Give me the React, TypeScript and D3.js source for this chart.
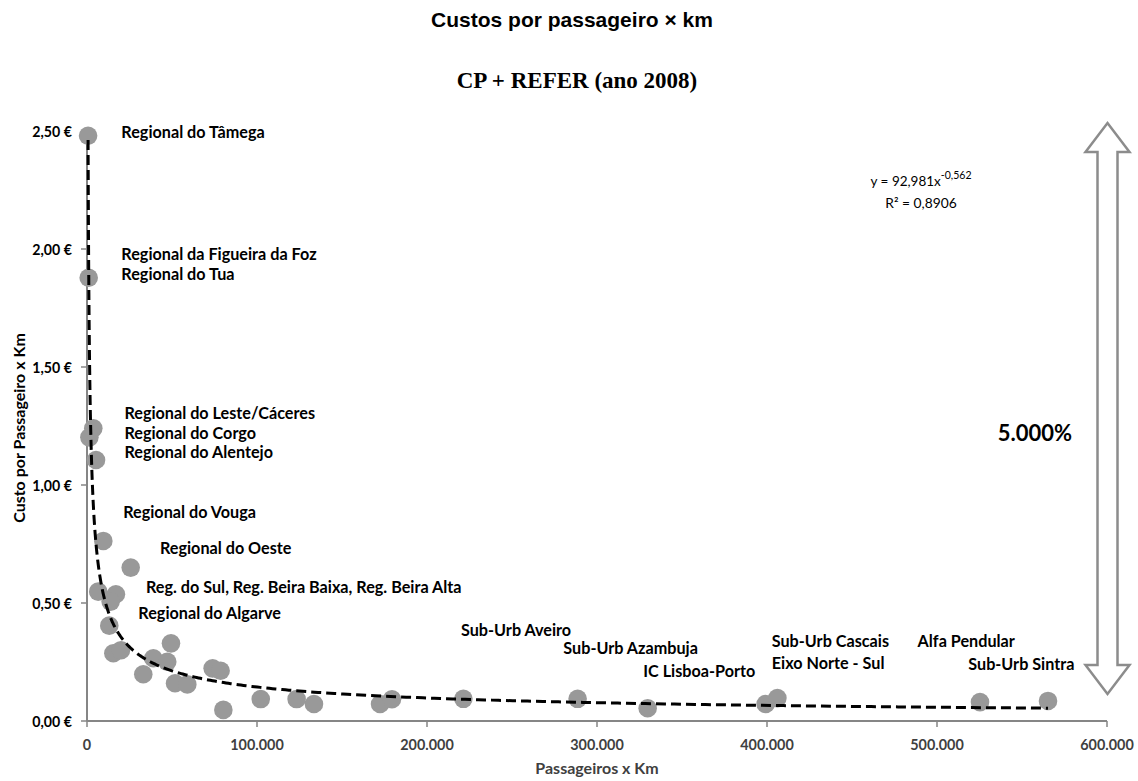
import React, { useEffect } from "react";
import * as d3 from "d3";

const W = 1138;
const H = 781;

// Passageiros x Km (x) and Custo por Passageiro x Km (y, €)
const passKm = [
  640, 1000, 3700, 1400, 5300, 9600, 25700, 6600, 17000, 13900, 13100,
  15500, 20000, 33100, 39000, 47200, 49400, 51800, 59000, 73900, 78600, 80200,
  102200, 123300, 133500, 172400, 179400, 221400, 288600, 329800,
  399200, 406100, 525300, 565300,
];
const custo = [
  2.48, 1.878, 1.24, 1.202, 1.106, 0.763, 0.65, 0.548, 0.537, 0.506, 0.404,
  0.287, 0.30, 0.198, 0.266, 0.251, 0.329, 0.16, 0.155, 0.223, 0.213, 0.047,
  0.093, 0.093, 0.072, 0.072, 0.092, 0.094, 0.094, 0.054,
  0.072, 0.097, 0.08, 0.085,
];

// Annotation labels (anchor in data units)
const labelText = [
  "Regional do Tâmega",
  "Regional da Figueira da Foz",
  "Regional do Tua",
  "Regional do Leste/Cáceres",
  "Regional do Corgo",
  "Regional do Alentejo",
  "Regional do Vouga",
  "Regional do Oeste",
  "Reg. do Sul, Reg. Beira Baixa, Reg. Beira Alta",
  "Regional do Algarve",
  "Sub-Urb Aveiro",
  "Sub-Urb Azambuja",
  "IC Lisboa-Porto",
  "Sub-Urb Cascais",
  "Eixo Norte - Sul",
  "Alfa Pendular",
  "Sub-Urb Sintra",
];
const labelX = [
  20200, 20200, 20200, 22000, 22000, 22000, 21300, 42900, 34700, 30200,
  220000, 280200, 327200, 402800, 402800, 488600, 518400,
];
const labelY = [
  2.497, 1.981, 1.896, 1.307, 1.223, 1.141, 0.887, 0.734, 0.572, 0.461,
  0.386, 0.311, 0.213, 0.343, 0.249, 0.343, 0.244,
];

const xTicks = [0, 100000, 200000, 300000, 400000, 500000, 600000];
const yTicks = [0, 0.5, 1.0, 1.5, 2.0, 2.5];

// Power trendline: y = 92,981 x^-0,562
const trendA = 92.981;
const trendB = -0.562;

const LABEL_FONT = "Lato, 'Open Sans', sans-serif";

export default function App() {
  useEffect(() => {
    document.body.style.margin = "0";
  }, []);

  const x = d3.scaleLinear().domain([0, 600000]).range([87, 1107]);
  const y = d3.scaleLinear().domain([0, 2.5]).range([721, 131]);

  const fmtX = (v: number) =>
    v === 0 ? "0" : d3.format(",")(v).replace(/,/g, ".");
  const fmtY = (v: number) => d3.format(".2f")(v).replace(".", ",") + " €";

  const xmin = d3.min(passKm) as number;
  const xmax = d3.max(passKm) as number;
  const N = 400;
  const trendPts = d3.range(0, N + 1).map((i) => {
    const xv = Math.exp(
      Math.log(xmin) + (i / N) * (Math.log(xmax) - Math.log(xmin))
    );
    return [xv, trendA * Math.pow(xv, trendB)] as [number, number];
  });
  const line = d3
    .line<[number, number]>()
    .x((d) => x(d[0]))
    .y((d) => y(d[1]));

  const axisColor = "#868686";

  // arrow geometry
  const ax = 1107.5;
  const aTop = 123;
  const aBot = 694;
  const headH = 29;
  const headHalf = 22;
  const shaftHalf = 10;
  const arrowPath =
    [
      [ax, aTop],
      [ax + headHalf, aTop + headH],
      [ax + shaftHalf, aTop + headH],
      [ax + shaftHalf, aBot - headH],
      [ax + headHalf, aBot - headH],
      [ax, aBot],
      [ax - headHalf, aBot - headH],
      [ax - shaftHalf, aBot - headH],
      [ax - shaftHalf, aTop + headH],
      [ax - headHalf, aTop + headH],
    ]
      .map((p, i) => (i === 0 ? "M" : "L") + p[0] + "," + p[1])
      .join(" ") + " Z";

  return (
    <svg width={W} height={H} style={{ display: "block", background: "#fff" }}>
      <rect x={0} y={0} width={W} height={H} fill="#fff" />
      {/* titles */}
      <text
        x={572}
        y={19}
        textAnchor="middle"
        dominantBaseline="central"
        fontFamily="'Liberation Sans', Arial, sans-serif"
        fontWeight="bold"
        fontSize={21}
      >
        Custos por passageiro × km
      </text>
      <text
        x={577}
        y={80}
        textAnchor="middle"
        dominantBaseline="central"
        fontFamily="'Liberation Serif', 'Times New Roman', serif"
        fontWeight="bold"
        fontSize={23}
      >
        CP + REFER (ano 2008)
      </text>

      {/* axes */}
      <line x1={x(0)} x2={x(600000)} y1={y(0)} y2={y(0)} stroke={axisColor} strokeWidth={2} />
      <line x1={x(0)} x2={x(0)} y1={y(0)} y2={y(2.5)} stroke={axisColor} strokeWidth={2} />
      {xTicks.map((t) => (
        <g key={"xt" + t}>
          <line x1={x(t)} x2={x(t)} y1={y(0)} y2={y(0) + 6} stroke={axisColor} strokeWidth={1.5} />
          <text
            x={x(t)}
            y={744}
            textAnchor="middle"
            dominantBaseline="central"
            fontFamily={LABEL_FONT}
            fontWeight="bold"
            fontSize={14.4}
            fill="#404040"
          >
            {fmtX(t)}
          </text>
        </g>
      ))}
      {yTicks.map((t) => (
        <g key={"yt" + t}>
          <line x1={x(0) - 6} x2={x(0)} y1={y(t)} y2={y(t)} stroke={axisColor} strokeWidth={1.5} />
          <text
            x={72}
            y={y(t)}
            textAnchor="end"
            dominantBaseline="central"
            fontFamily={LABEL_FONT}
            fontWeight="bold"
            fontSize={14.2}
            fill="#000"
          >
            {fmtY(t)}
          </text>
        </g>
      ))}
      <text
        x={597}
        y={767}
        textAnchor="middle"
        dominantBaseline="central"
        fontFamily={LABEL_FONT}
        fontWeight="bold"
        fontSize={16}
        fill="#404040"
      >
        Passageiros x Km
      </text>
      <text
        transform={`translate(18,428) rotate(-90)`}
        textAnchor="middle"
        dominantBaseline="central"
        fontFamily={LABEL_FONT}
        fontWeight="bold"
        fontSize={16}
      >
        Custo por Passageiro x Km
      </text>

      {/* points */}
      {passKm.map((v, i) => (
        <circle key={"p" + i} cx={x(v)} cy={y(custo[i])} r={9.3} fill="#999999" />
      ))}

      {/* trendline */}
      <path
        d={line(trendPts) || ""}
        fill="none"
        stroke="#000"
        strokeWidth={3}
        strokeDasharray="10,5"
      />

      {/* labels */}
      {labelText.map((t, i) => (
        <text
          key={"l" + i}
          x={x(labelX[i])}
          y={y(labelY[i])}
          dominantBaseline="central"
          fontFamily={LABEL_FONT}
          fontWeight="bold"
          fontSize={16.2}
          fill="#000"
        >
          {t}
        </text>
      ))}

      {/* equation */}
      <text
        x={921}
        y={181}
        textAnchor="middle"
        dominantBaseline="central"
        fontFamily={LABEL_FONT}
        fontSize={13.5}
      >
        y = 92,981x
        <tspan dy={-6} fontSize={10.5}>-0,562</tspan>
      </text>
      <text
        x={921}
        y={202}
        textAnchor="middle"
        dominantBaseline="central"
        fontFamily={LABEL_FONT}
        fontSize={13.8}
      >
        R² = 0,8906
      </text>

      {/* double arrow */}
      <path d={arrowPath} fill="#fff" stroke="#8c8c8c" strokeWidth={2.5} strokeLinejoin="miter" />
      <text
        x={1035}
        y={432}
        textAnchor="middle"
        dominantBaseline="central"
        fontFamily={LABEL_FONT}
        fontWeight="bold"
        fontSize={22}
      >
        5.000%
      </text>
    </svg>
  );
}
